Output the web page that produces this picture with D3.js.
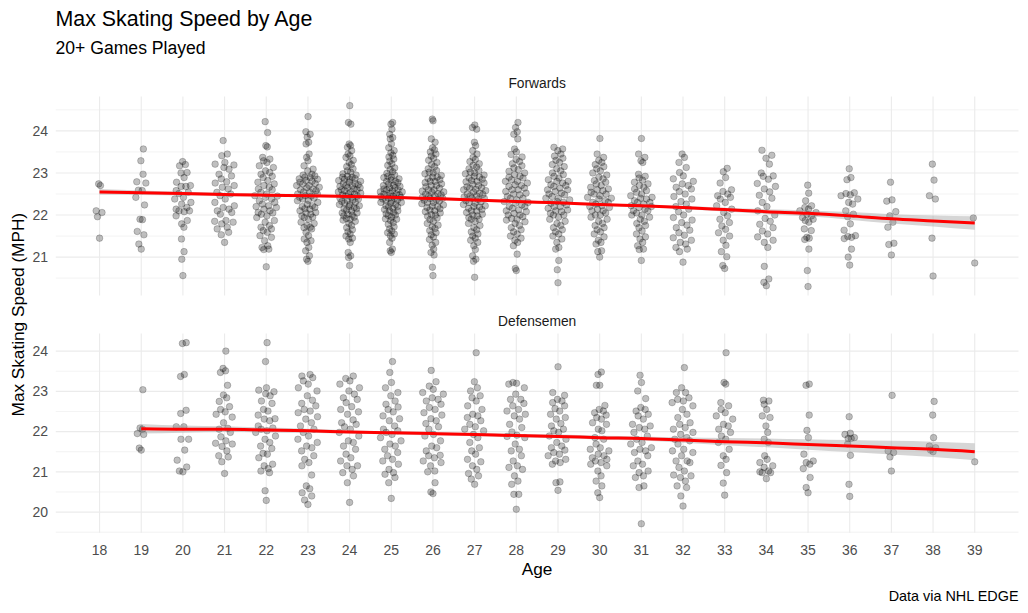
<!DOCTYPE html>
<html><head><meta charset="utf-8">
<script src="https://cdn.jsdelivr.net/npm/d3@7"></script>
<style>body{margin:0;background:#fff}svg{display:block;font-family:"Liberation Sans",Arial,sans-serif}</style>
</head><body><svg id="c" width="1028" height="613"></svg>
<script>
// ---------------- data ----------------
const ages = [18,19,20,21,22,23,24,25,26,27,28,29,30,31,32,33,34,35,36,37,38,39];
const panelNames = ["Forwards", "Defensemen"];
const forwardsYTicks = [21,22,23,24];
const defenseYTicks = [20,21,22,23,24];

// Max skating speed (MPH) per player, grouped by age (index matches `ages`)
const forwardsSpeeds = [
 [22.74,22.70,22.10,22.06,21.96,21.45],
 [23.57,23.29,22.97,22.79,22.76,22.59,22.58,22.42,22.24,21.90,21.89,21.61,21.53,21.31,21.19],
 [23.27,23.20,23.17,23.01,23.00,22.89,22.78,22.70,22.68,22.68,22.58,22.54,22.51,22.42,22.38,22.30,22.26,22.18,22.14,22.10,22.10,22.08,21.98,21.87,21.79,21.71,21.43,21.13,20.95,20.56],
 [23.77,23.45,23.41,23.25,23.21,23.19,23.13,23.09,22.97,22.93,22.86,22.79,22.76,22.70,22.66,22.62,22.54,22.50,22.46,22.38,22.30,22.22,22.18,22.14,22.10,22.06,22.02,21.87,21.85,21.83,21.79,21.71,21.67,21.59,21.53,21.35],
 [24.22,23.96,23.65,23.62,23.37,23.33,23.29,23.25,23.17,23.13,23.05,23.01,22.97,22.92,22.89,22.82,22.78,22.74,22.70,22.66,22.62,22.54,22.50,22.46,22.42,22.38,22.34,22.30,22.26,22.22,22.18,22.14,22.10,22.06,22.02,21.98,21.94,21.87,21.83,21.75,21.71,21.67,21.63,21.59,21.51,21.47,21.39,21.27,21.23,21.19,21.18,20.77,22.60,22.45,22.20,22.05],
 [24.34,23.98,23.92,23.85,23.73,23.69,23.45,23.37,23.29,23.17,23.09,23.05,22.97,22.93,22.89,22.86,22.82,22.78,22.74,22.70,22.66,22.62,22.58,22.54,22.50,22.46,22.42,22.38,22.34,22.30,22.22,22.18,22.14,22.10,22.06,22.02,21.98,21.94,21.90,21.83,21.75,21.71,21.67,21.59,21.51,21.43,21.39,21.35,21.23,21.15,21.03,20.95,20.90,22.90,22.80,22.75,22.60,22.45,22.35,22.25,22.15,22.05,21.95,22.85,22.65,22.55,22.20,21.80,21.70,22.50,22.70,22.40,22.95],
 [24.60,24.20,24.16,23.69,23.65,23.61,23.53,23.45,23.41,23.37,23.30,23.25,23.20,23.15,23.10,23.05,23.02,22.98,22.95,22.92,22.90,22.87,22.85,22.82,22.80,22.78,22.75,22.72,22.70,22.68,22.65,22.62,22.60,22.58,22.55,22.52,22.50,22.48,22.45,22.42,22.40,22.38,22.35,22.32,22.30,22.28,22.25,22.22,22.20,22.18,22.15,22.12,22.10,22.05,22.02,22.00,21.95,21.92,21.88,21.85,21.80,21.75,21.70,21.65,21.60,21.55,21.50,21.45,21.43,21.35,21.11,21.03,20.99,20.80,22.90,22.85,22.75,22.65,22.55,22.45,22.35,22.25,22.15,22.05,21.98,21.90,22.60,22.70,22.50],
 [24.20,24.16,24.04,23.92,23.84,23.81,23.69,23.60,23.53,23.48,23.42,23.38,23.33,23.28,23.22,23.18,23.12,23.08,23.03,22.99,22.95,22.92,22.89,22.86,22.83,22.80,22.77,22.74,22.71,22.68,22.65,22.62,22.60,22.57,22.55,22.52,22.50,22.48,22.46,22.44,22.42,22.40,22.38,22.36,22.33,22.30,22.28,22.25,22.22,22.19,22.16,22.13,22.10,22.06,22.03,21.99,21.95,21.91,21.87,21.82,21.78,21.72,21.67,21.62,21.58,21.55,21.51,21.45,21.35,21.19,21.15,21.11,22.50,22.45,22.40,22.35,22.30,22.55,22.60,22.65,22.70,22.20,22.10,22.00,21.90,22.80,22.90],
 [24.28,24.24,23.81,23.73,23.60,23.55,23.50,23.45,23.40,23.35,23.30,23.25,23.20,23.15,23.10,23.06,23.02,22.98,22.94,22.90,22.87,22.84,22.80,22.77,22.74,22.70,22.67,22.64,22.60,22.57,22.54,22.51,22.48,22.45,22.42,22.39,22.36,22.33,22.30,22.27,22.24,22.21,22.18,22.15,22.12,22.08,22.05,22.01,21.97,21.93,21.89,21.85,21.80,21.76,21.72,21.68,21.63,21.58,21.53,21.48,21.42,21.35,21.28,21.19,21.11,21.05,20.76,20.56,22.60,22.55,22.50,22.45,22.40,22.35,22.30,22.20,22.10,22.00,22.70,22.80,22.90,23.00],
 [24.14,24.08,24.04,23.73,23.65,23.53,23.45,23.37,23.32,23.27,23.22,23.18,23.14,23.10,23.06,23.02,22.98,22.95,22.92,22.88,22.85,22.82,22.79,22.76,22.73,22.70,22.67,22.64,22.61,22.58,22.55,22.52,22.49,22.46,22.43,22.40,22.37,22.34,22.31,22.28,22.25,22.22,22.19,22.16,22.13,22.10,22.06,22.02,21.98,21.94,21.90,21.85,21.80,21.75,21.70,21.65,21.60,21.55,21.50,21.45,21.40,21.35,21.27,21.18,21.03,20.95,20.90,20.52,22.65,22.60,22.50,22.45,22.40,22.30,22.20,22.10,22.00,21.90,22.80,22.90,23.00],
 [24.20,24.08,23.98,23.92,23.81,23.57,23.50,23.44,23.38,23.32,23.27,23.22,23.17,23.12,23.08,23.04,23.00,22.96,22.92,22.88,22.84,22.80,22.76,22.72,22.68,22.64,22.60,22.56,22.52,22.48,22.44,22.40,22.36,22.32,22.28,22.24,22.20,22.16,22.12,22.08,22.04,22.00,21.96,21.92,21.88,21.84,21.80,21.75,21.70,21.65,21.60,21.55,21.50,21.45,21.40,21.35,21.27,21.07,20.73,20.68,22.50,22.40,22.30,22.20,22.10,22.00,21.90,22.60,22.70,22.80,22.90],
 [23.61,23.57,23.53,23.45,23.40,23.35,23.30,23.25,23.20,23.15,23.10,23.05,23.00,22.96,22.92,22.88,22.84,22.80,22.76,22.72,22.68,22.64,22.60,22.56,22.52,22.48,22.44,22.40,22.36,22.32,22.28,22.24,22.20,22.16,22.12,22.08,22.04,22.00,21.95,21.90,21.85,21.80,21.75,21.70,21.65,21.60,21.55,21.50,21.43,21.35,21.23,21.19,20.92,20.70,20.39,22.50,22.40,22.30,22.20,22.10,22.00,22.60,22.70,22.80],
 [23.82,23.45,23.37,23.30,23.25,23.20,23.15,23.10,23.05,23.00,22.95,22.90,22.86,22.82,22.78,22.74,22.70,22.66,22.62,22.58,22.54,22.50,22.46,22.42,22.38,22.34,22.30,22.26,22.22,22.18,22.14,22.10,22.05,22.00,21.95,21.90,21.85,21.80,21.75,21.70,21.65,21.60,21.55,21.48,21.40,21.35,21.31,21.15,21.13,21.00,22.40,22.30,22.20,22.10,22.00,22.50,22.60],
 [23.82,23.45,23.37,23.29,23.25,22.97,22.92,22.88,22.83,22.78,22.74,22.70,22.66,22.62,22.58,22.54,22.50,22.46,22.42,22.38,22.34,22.30,22.26,22.22,22.18,22.14,22.10,22.05,22.00,21.95,21.90,21.85,21.80,21.75,21.70,21.62,21.55,21.48,21.43,21.35,21.27,21.19,21.18,20.92,22.40,22.30,22.20,22.10,22.00],
 [23.45,23.37,23.25,23.13,23.01,22.93,22.86,22.80,22.74,22.70,22.66,22.62,22.56,22.50,22.44,22.38,22.32,22.26,22.20,22.14,22.08,22.00,21.94,21.88,21.82,21.76,21.70,21.64,21.58,21.52,21.46,21.40,21.35,21.31,21.23,21.19,21.13,20.88],
 [23.11,23.03,22.89,22.76,22.60,22.56,22.50,22.46,22.42,22.38,22.30,22.22,22.14,22.06,21.98,21.90,21.82,21.74,21.66,21.58,21.50,21.40,21.28,21.13,21.01,20.80,20.73],
 [23.54,23.42,23.35,23.21,23.00,22.93,22.92,22.85,22.75,22.68,22.62,22.55,22.47,22.40,22.30,22.20,22.10,22.00,21.92,21.85,21.78,21.70,21.62,21.55,21.48,21.40,21.35,21.23,20.78,20.48,20.40,20.32],
 [22.71,22.52,22.34,22.22,22.18,22.14,22.10,22.06,22.02,21.98,21.94,21.90,21.87,21.83,21.67,21.63,21.47,21.45,21.42,21.19,20.68,20.30],
 [23.10,22.89,22.84,22.51,22.53,22.48,22.46,22.38,22.30,22.26,22.10,22.02,21.96,21.79,21.64,21.51,21.49,21.47,21.44,21.19,21.00,20.81],
 [22.78,22.36,22.33,22.08,21.98,21.83,21.71,21.33,21.30,21.05],
 [23.21,22.83,22.46,22.38,21.45,20.55],
 [21.93,20.86]
];

const defenseSpeeds = [
 [],
 [23.04,22.09,22.06,21.95,21.93,21.59,21.54],
 [24.21,24.19,23.42,23.37,22.53,22.45,22.12,22.12,21.81,21.81,21.54,21.29,21.12,21.02,21.00],
 [24.00,23.57,23.51,23.47,23.15,22.91,22.84,22.75,22.62,22.55,22.49,22.43,22.36,22.22,22.08,22.06,21.98,21.87,21.77,21.71,21.69,21.63,21.52,21.40,21.37,21.25,20.96],
 [24.21,23.74,23.09,23.03,22.99,22.94,22.89,22.76,22.70,22.55,22.51,22.41,22.32,22.31,22.27,22.14,22.09,22.06,22.02,21.98,21.89,21.81,21.73,21.64,21.58,21.46,21.44,21.35,21.19,21.15,21.08,21.02,20.98,20.53,20.29],
 [23.42,23.38,23.34,23.26,23.18,23.09,23.01,22.89,22.78,22.70,22.64,22.55,22.51,22.47,22.37,22.31,22.22,22.14,22.06,21.98,21.89,21.81,21.73,21.64,21.60,21.52,21.40,21.31,21.23,21.15,20.92,20.65,20.58,20.48,20.40,20.30,20.19],
 [23.38,23.32,23.26,23.18,23.09,23.01,22.93,22.84,22.80,22.72,22.62,22.55,22.49,22.43,22.29,22.22,22.18,22.12,22.06,21.98,21.89,21.77,21.73,21.64,21.56,21.44,21.35,21.27,21.15,21.15,21.06,20.98,20.90,20.73,20.24],
 [23.74,23.47,23.22,23.09,22.97,22.89,22.76,22.68,22.61,22.55,22.49,22.39,22.32,22.27,22.14,22.06,22.02,21.98,21.93,21.85,21.77,21.69,21.64,21.56,21.48,21.40,21.31,21.27,21.19,21.06,20.98,20.94,20.86,20.73,20.34],
 [23.52,23.24,23.13,23.05,22.97,22.93,22.84,22.80,22.76,22.68,22.60,22.55,22.47,22.41,22.32,22.27,22.20,22.12,22.06,21.93,21.89,21.77,21.64,21.60,21.52,21.41,21.40,21.35,21.27,21.23,21.15,21.02,21.00,20.73,20.50,20.46],
 [23.96,23.24,23.09,23.01,22.89,22.84,22.76,22.64,22.55,22.43,22.39,22.35,22.27,22.18,22.12,22.06,22.02,21.93,21.85,21.73,21.60,21.52,21.44,21.31,21.25,21.15,21.06,20.96,20.90,20.82,20.69],
 [23.22,23.20,23.18,23.09,22.93,22.80,22.80,22.70,22.64,22.55,22.51,22.43,22.39,22.31,22.18,22.10,21.99,21.91,21.88,21.85,21.69,21.56,21.52,21.40,21.27,21.15,21.11,21.06,20.90,20.77,20.69,20.44,20.44,20.07],
 [23.61,22.97,22.90,22.80,22.76,22.72,22.64,22.57,22.51,22.43,22.35,22.31,22.20,22.14,22.06,22.02,21.98,21.89,21.81,21.73,21.64,21.60,21.54,21.48,21.44,21.40,21.31,21.27,21.23,21.19,20.75,20.73,20.54],
 [23.48,23.42,23.15,23.15,22.65,22.55,22.51,22.47,22.41,22.35,22.31,22.22,22.18,22.06,22.02,21.85,21.81,21.69,21.60,21.56,21.52,21.44,21.40,21.35,21.31,21.27,21.23,21.19,21.15,21.02,20.90,20.77,20.65,20.48,20.36],
 [23.40,23.22,23.01,22.82,22.60,22.55,22.51,22.43,22.39,22.31,22.18,22.14,22.10,22.06,21.98,21.89,21.81,21.73,21.69,21.60,21.56,21.52,21.48,21.40,21.27,21.19,21.15,21.02,20.98,20.90,20.86,20.65,20.61,19.71],
 [23.59,23.09,22.97,22.97,22.84,22.80,22.76,22.72,22.64,22.55,22.43,22.35,22.22,22.18,22.10,22.06,21.98,21.93,21.85,21.81,21.77,21.69,21.56,21.52,21.48,21.40,21.27,21.27,21.23,21.11,21.02,20.92,20.90,20.86,20.77,20.65,20.61,20.40,20.15],
 [23.96,23.22,23.18,22.72,22.64,22.55,22.47,22.39,22.31,22.18,22.14,22.06,21.98,21.89,21.81,21.73,21.56,21.40,21.31,21.16,20.98,20.72,20.42],
 [22.78,22.76,22.68,22.55,22.39,22.35,22.14,21.98,21.81,21.73,21.40,21.31,21.23,21.15,21.11,21.02,21.00,20.98,20.98,20.83],
 [23.18,23.15,22.41,22.03,21.85,21.44,21.27,21.23,21.19,21.08,20.86,20.61,20.48],
 [22.37,21.96,21.93,21.85,21.83,21.83,21.69,21.41,20.69,20.39],
 [22.90,21.52,21.48,21.37,21.02],
 [22.75,22.41,21.85,21.64,21.60,21.54,21.50],
 [21.25]
];

// smoothed fit and half-width of the confidence band, per age
const forwardsFit = [22.55,22.53,22.51,22.49,22.47,22.46,22.44,22.42,22.39,22.36,22.32,22.29,22.25,22.22,22.18,22.13,22.08,22.04,21.98,21.91,21.86,21.81];
const forwardsBand = [0.07,0.055,0.045,0.04,0.035,0.03,0.03,0.03,0.03,0.03,0.03,0.03,0.03,0.03,0.035,0.045,0.06,0.07,0.09,0.11,0.13,0.16];
const defenseFitAges = [19,20,21,22,23,24,25,26,27,28,29,30,31,32,33,34,35,36,37,38,39];
const defenseFit = [22.07,22.06,22.06,22.04,22.02,21.99,21.97,21.95,21.93,21.90,21.88,21.85,21.83,21.79,21.75,21.72,21.68,21.64,21.60,21.56,21.50];
const defenseBand = [0.12,0.09,0.07,0.06,0.05,0.04,0.04,0.04,0.04,0.04,0.045,0.045,0.05,0.07,0.09,0.11,0.13,0.15,0.17,0.19,0.21];

// ---------------- chart ----------------
const svg = d3.select("#c");
const FONT = '"Liberation Sans", Arial, sans-serif';
const L = 55.8, R = 1018.5;
const x = d3.scaleLinear().domain([ages[0] - 0.05*(ages[ages.length-1]-ages[0]), ages[ages.length-1] + 0.05*(ages[ages.length-1]-ages[0])]).range([L, R]);

const panels = [
  {name: panelNames[0], speeds: forwardsSpeeds, fitAges: ages, fit: forwardsFit, band: forwardsBand, ticks: forwardsYTicks, top: 96.6, bottom: 295.6, stripY: 87.5},
  {name: panelNames[1], speeds: defenseSpeeds, fitAges: defenseFitAges, fit: defenseFit, band: defenseBand, ticks: defenseYTicks, top: 333.6, bottom: 532.8, stripY: 325.5}
];

function vanDerCorput(n) {
  const out = [];
  for (let i = 1; i <= n; i++) {
    let v = 0, denom = 1, k = i;
    while (k > 0) { denom *= 2; v += (k % 2) / denom; k = Math.floor(k / 2); }
    out.push(v);
  }
  return out;
}
function quasiOffsets(vals, width) {
  const n = vals.length;
  if (n < 2) return vals.map(() => 0);
  const sd = d3.deviation(vals);
  const sorted = vals.slice().sort(d3.ascending);
  const iqr = d3.quantile(sorted, 0.75) - d3.quantile(sorted, 0.25);
  let bw = 0.9 * Math.min(sd, iqr / 1.34 || sd) * Math.pow(n, -0.2) * 0.5;
  if (!(bw > 0)) bw = 0.1;
  const dens = vals.map(v => d3.sum(vals, u => Math.exp(-0.5 * ((v - u) / bw) ** 2)));
  const maxD = d3.max(dens);
  const order = d3.range(n).sort((a, b) => vals[a] - vals[b] || a - b);
  const q = vanDerCorput(n);
  const rank = new Array(n);
  order.forEach((idx, r) => rank[idx] = r);
  return vals.map((v, i) => (q[rank[i]] - 0.5) * 2 * width * dens[i] / maxD);
}

panels.forEach(p => {
  const all = p.speeds.flat();
  const [mn, mx] = d3.extent(all);
  const pad = 0.05 * (mx - mn);
  const y = d3.scaleLinear().domain([mn - pad, mx + pad]).range([p.bottom, p.top]);
  const g = svg.append("g");

  // grid
  const [d0, d1] = y.domain();
  const minor = d3.range(Math.ceil(d0 * 2) / 2, d1, 0.5).filter(v => Math.abs(v - Math.round(v)) > 0.01);
  g.selectAll(".ymin").data(minor).join("line")
    .attr("x1", L).attr("x2", R).attr("y1", d => y(d)).attr("y2", d => y(d))
    .attr("stroke", "#ebebeb").attr("stroke-width", 0.6);
  g.selectAll(".ymaj").data(p.ticks).join("line")
    .attr("x1", L).attr("x2", R).attr("y1", d => y(d)).attr("y2", d => y(d))
    .attr("stroke", "#ebebeb").attr("stroke-width", 1.1);
  g.selectAll(".xmaj").data(ages).join("line")
    .attr("x1", d => x(d)).attr("x2", d => x(d)).attr("y1", p.top).attr("y2", p.bottom)
    .attr("stroke", "#ebebeb").attr("stroke-width", 1.1);

  // y tick labels
  g.selectAll(".yt").data(p.ticks).join("text")
    .attr("x", 48).attr("y", d => y(d)).attr("dy", "0.35em")
    .attr("text-anchor", "end").attr("font-size", 14).attr("fill", "#4d4d4d")
    .style("font-family", FONT).text(d => d);

  // strip
  g.append("text").attr("x", (L + R) / 2).attr("y", p.stripY)
    .attr("text-anchor", "middle").attr("font-size", 13.8).attr("fill", "#1a1a1a")
    .style("font-family", FONT).text(p.name);

  // points (quasirandom spread)
  const pts = [];
  p.speeds.forEach((vals, i) => {
    const w = 0.3 * Math.min(1, Math.sqrt(vals.length / 40));
    const offs = quasiOffsets(vals, w);
    vals.forEach((v, j) => pts.push({age: ages[i], v, off: offs[j]}));
  });
  g.selectAll(".pt").data(pts).join("circle")
    .attr("cx", d => x(d.age + d.off)).attr("cy", d => y(d.v)).attr("r", 3.3)
    .attr("fill", "rgba(0,0,0,0.25)").attr("stroke", "rgba(0,0,0,0.25)").attr("stroke-width", 0.8);

  // confidence band + fit line
  const fitData = p.fitAges.map((a, i) => ({a, f: p.fit[i], b: p.band[i]}));
  g.append("path").datum(fitData)
    .attr("d", d3.area().x(d => x(d.a)).y0(d => y(d.f - d.b)).y1(d => y(d.f + d.b)).curve(d3.curveMonotoneX))
    .attr("fill", "#999999").attr("fill-opacity", 0.4);
  g.append("path").datum(fitData)
    .attr("d", d3.line().x(d => x(d.a)).y(d => y(d.f)).curve(d3.curveMonotoneX))
    .attr("fill", "none").attr("stroke", "#ff0000").attr("stroke-width", 3);
});

// x tick labels (bottom panel only)
svg.selectAll(".xt").data(ages).join("text")
  .attr("x", d => x(d)).attr("y", 554.5).attr("text-anchor", "middle")
  .attr("font-size", 14).attr("fill", "#4d4d4d").style("font-family", FONT).text(d => d);

// titles
svg.append("text").attr("x", 55.5).attr("y", 26).attr("font-size", 21.4).attr("fill", "#000")
  .style("font-family", FONT).text("Max Skating Speed by Age");
svg.append("text").attr("x", 55.5).attr("y", 54).attr("font-size", 17.6).attr("fill", "#000")
  .style("font-family", FONT).text("20+ Games Played");
svg.append("text").attr("x", (L + R) / 2).attr("y", 575).attr("text-anchor", "middle")
  .attr("font-size", 17.2).attr("fill", "#000").style("font-family", FONT).text("Age");
svg.append("text").attr("transform", `translate(24,${(96.6 + 532.8) / 2}) rotate(-90)`)
  .attr("text-anchor", "middle").attr("font-size", 17.2).attr("fill", "#000")
  .style("font-family", FONT).text("Max Skating Speed (MPH)");
svg.append("text").attr("x", R).attr("y", 601).attr("text-anchor", "end")
  .attr("font-size", 14.4).attr("fill", "#000").style("font-family", FONT).text("Data via NHL EDGE");
</script></body></html>
